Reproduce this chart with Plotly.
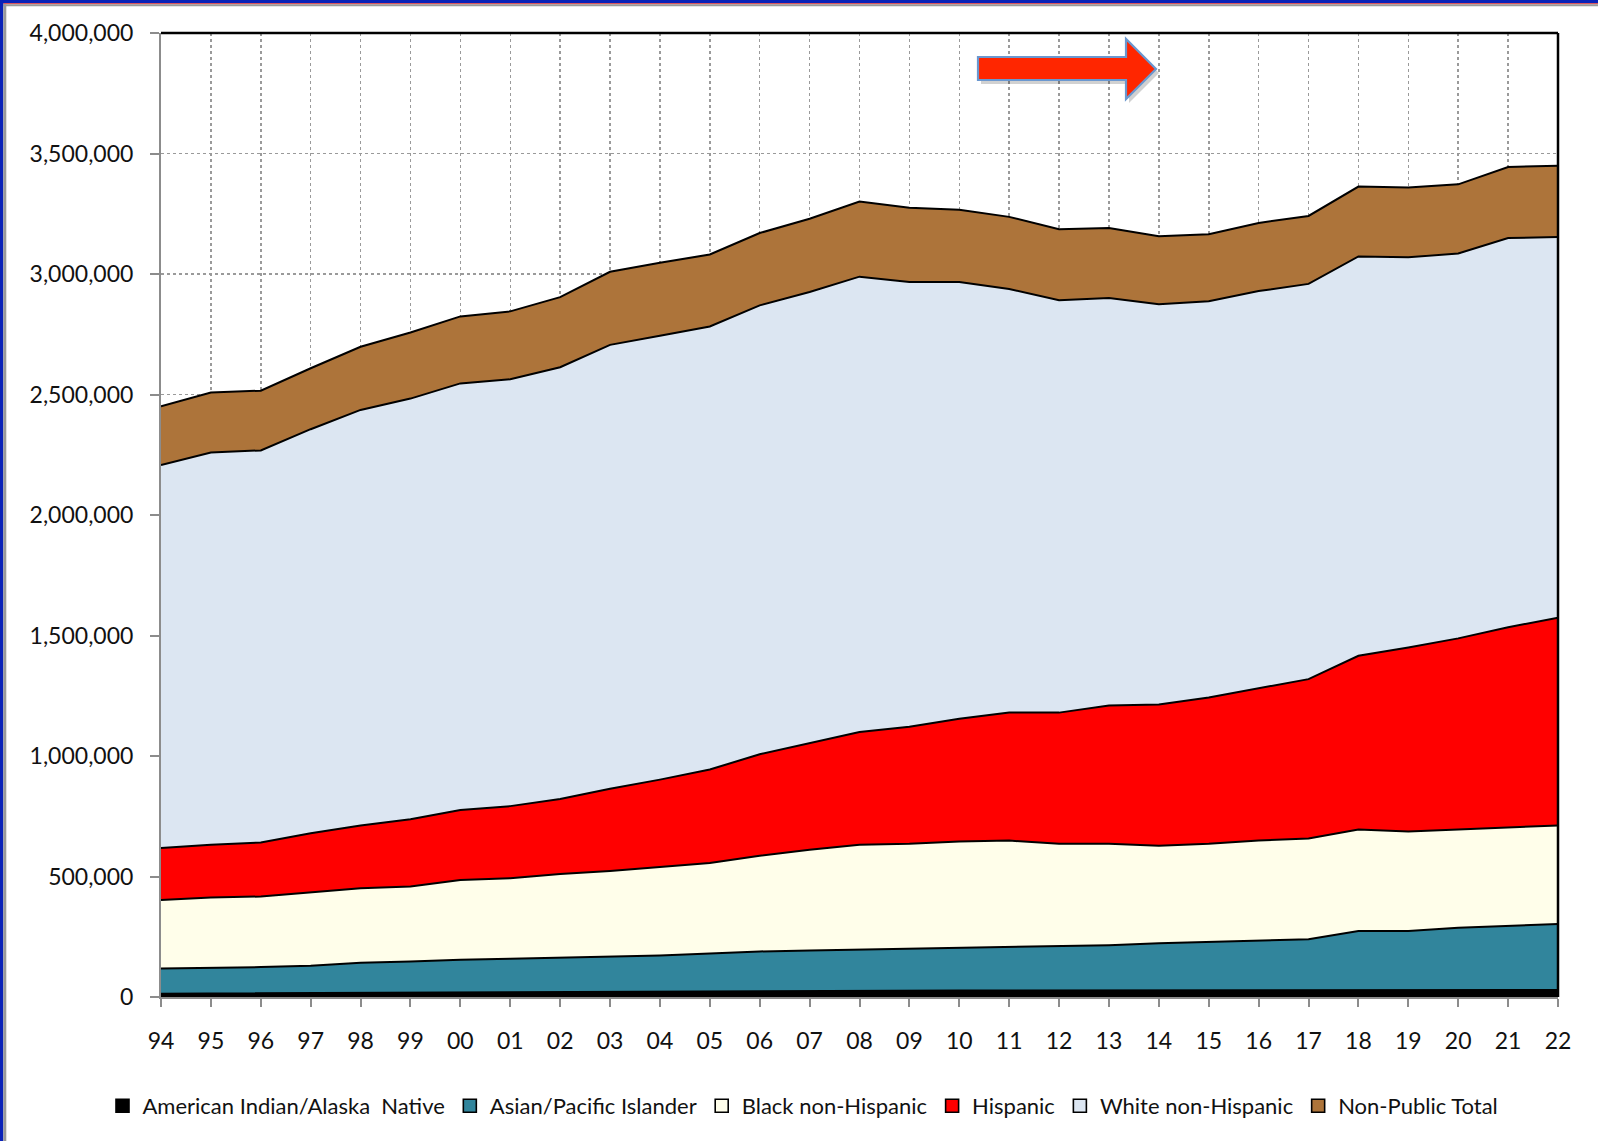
import plotly.graph_objects as go

W, H = 1598, 1141
L, R, T, B = 161, 1558, 33, 997  # plot area in pixels

years = ["94", "95", "96", "97", "98", "99", "00", "01", "02", "03", "04", "05", "06", "07",
         "08", "09", "10", "11", "12", "13", "14", "15", "16", "17", "18", "19", "20", "21", "22"]

american_indian = [14, 15, 15, 16, 17, 18, 19, 20, 21, 22, 23, 24, 25, 26, 27, 27, 27, 27, 27,
                   27, 27, 27, 27, 27, 28, 28, 28, 29, 29]
asian_pacific = [104, 105, 109, 114, 125, 129, 136, 139, 142, 146, 149, 156, 164, 167, 170, 171,
                 175, 180, 184, 188, 196, 201, 205, 213, 246, 246, 259, 266, 274]
black_non_hispanic = [285, 293, 293, 304, 309, 312, 330, 334, 347, 355, 368, 376, 397, 418, 435,
                      438, 443, 442, 425, 421, 405, 408, 417, 418, 421, 413, 408, 409, 409]
hispanic = [215, 219, 224, 245, 261, 279, 291, 299, 312, 341, 362, 388, 421, 443, 468, 485, 510,
            531, 544, 574, 586, 607, 632, 661, 721, 763, 793, 830, 862]
white_non_hispanic = [1589, 1627, 1627, 1677, 1724, 1745, 1770, 1771, 1791, 1842, 1842, 1838,
                      1863, 1871, 1889, 1846, 1812, 1758, 1711, 1690, 1661, 1644, 1648, 1640,
                      1657, 1619, 1597, 1615, 1580]
non_public_total = [244, 249, 248, 253, 262, 274, 278, 282, 291, 303, 303, 299, 300, 304, 312,
                    308, 300, 299, 295, 291, 282, 278, 283, 282, 290, 290, 287, 295, 295]

series = [
    ("American Indian/Alaska  Native", american_indian, "#000000"),
    ("Asian/Pacific Islander", asian_pacific, "#31859c"),
    ("Black non-Hispanic", black_non_hispanic, "#fffeea"),
    ("Hispanic", hispanic, "#ff0000"),
    ("White non-Hispanic", white_non_hispanic, "#dce6f2"),
    ("Non-Public Total", non_public_total, "#ad743a"),
]

y_ticks = [0, 500000, 1000000, 1500000, 2000000, 2500000, 3000000, 3500000, 4000000]
y_tick_text = ["0", "500,000", "1,000,000", "1,500,000", "2,000,000", "2,500,000",
               "3,000,000", "3,500,000", "4,000,000"]

xs = list(range(len(years)))

fig = go.Figure()
for name, vals, color in series:
    fig.add_trace(go.Scatter(
        x=xs, y=[v * 1000 for v in vals], name=name, mode="lines",
        stackgroup="one", fillcolor=color,
        line=dict(color="#000000", width=2),
        hoverinfo="skip", showlegend=False,
    ))
# legend entries (square swatches)
for name, vals, color in series:
    fig.add_trace(go.Scatter(
        x=[None], y=[None], name=name, mode="markers",
        marker=dict(symbol="square", size=13, color=color,
                    line=dict(color="#000000", width=1.6)),
        showlegend=True, hoverinfo="skip",
    ))


def px(x):
    return (x - L) / (R - L)


def py(y):
    return (B - y) / (B - T)


shapes = []
# window frame (top and left)
shapes.append(dict(type="rect", xref="paper", yref="paper", x0=px(0), x1=px(W), y0=py(0), y1=py(3.3),
                   fillcolor="#0a22b8", line=dict(width=0), layer="above"))
shapes.append(dict(type="rect", xref="paper", yref="paper", x0=px(3.3), x1=px(W), y0=py(3.3), y1=py(4.3),
                   fillcolor="#e03030", line=dict(width=0), layer="above"))
shapes.append(dict(type="rect", xref="paper", yref="paper", x0=px(3.3), x1=px(W), y0=py(4.3), y1=py(6.3),
                   fillcolor="#9a9a9a", line=dict(width=0), layer="above"))
shapes.append(dict(type="rect", xref="paper", yref="paper", x0=px(0), x1=px(3.3), y0=py(H), y1=py(0),
                   fillcolor="#0a22b8", line=dict(width=0), layer="above"))
shapes.append(dict(type="rect", xref="paper", yref="paper", x0=px(3.3), x1=px(6.3), y0=py(H), y1=py(4.3),
                   fillcolor="#9a9a9a", line=dict(width=0), layer="above"))
# plot border top / right
shapes.append(dict(type="line", xref="paper", yref="paper", x0=0, x1=1, y0=1, y1=1,
                   line=dict(color="#000000", width=2.5), layer="above"))
shapes.append(dict(type="line", xref="paper", yref="paper", x0=1, x1=1, y0=0, y1=1,
                   line=dict(color="#000000", width=2.5), layer="above"))


# arrow (with shadow)
def arrow_path(dx=0.0, dy=0.0):
    pts = [(978, 57), (1126, 57), (1126, 39), (1156, 69), (1126, 99), (1126, 80), (978, 80)]
    s = ""
    for i, (a, b) in enumerate(pts):
        s += ("M" if i == 0 else "L") + f" {px(a + dx):.5f},{py(b + dy):.5f} "
    return s + "Z"


shapes.append(dict(type="path", xref="paper", yref="paper", path=arrow_path(3, 4),
                   fillcolor="rgba(0,0,0,0.18)", line=dict(width=0), layer="above"))
shapes.append(dict(type="path", xref="paper", yref="paper", path=arrow_path(),
                   fillcolor="#ff2600", line=dict(color="#6a97cf", width=2.2), layer="above"))

font_family = "Lato, 'Open Sans', sans-serif"

fig.update_layout(
    width=W, height=H,
    margin=dict(l=L, r=W - R, t=T, b=H - B, pad=0),
    paper_bgcolor="#ffffff", plot_bgcolor="#ffffff",
    font=dict(family=font_family, size=22, color="#111111"),
    showlegend=True,
    legend=dict(orientation="h", x=px(803), y=py(1106), xanchor="center", yanchor="middle",
                font=dict(family=font_family, size=22, color="#111111"),
                traceorder="normal", itemwidth=30, tracegroupgap=0,
                bgcolor="rgba(0,0,0,0)"),
    shapes=shapes,
    xaxis=dict(
        range=[0, len(years) - 1], tickmode="array", tickvals=xs, ticktext=years,
        showgrid=True, gridcolor="#9a9a9a", gridwidth=1.5, griddash="dot",
        showline=True, linecolor="#8c8c8c", linewidth=2,
        ticks="outside", ticklen=8, tickwidth=2, tickcolor="#8c8c8c",
        ticklabelstandoff=14, zeroline=False, fixedrange=True,
        tickfont=dict(size=23),
    ),
    yaxis=dict(
        range=[0, 4000000], tickmode="array", tickvals=y_ticks, ticktext=y_tick_text,
        showgrid=True, gridcolor="#9a9a9a", gridwidth=1.5, griddash="dot",
        showline=True, linecolor="#8c8c8c", linewidth=2,
        ticks="outside", ticklen=9, tickwidth=2, tickcolor="#8c8c8c",
        ticklabelstandoff=12, zeroline=False, fixedrange=True,
        tickfont=dict(size=23),
    ),
)

fig.write_html("out.html", config={"displayModeBar": False, "staticPlot": True},
               post_script="document.body.style.margin='0px';document.body.style.overflow='hidden';")
